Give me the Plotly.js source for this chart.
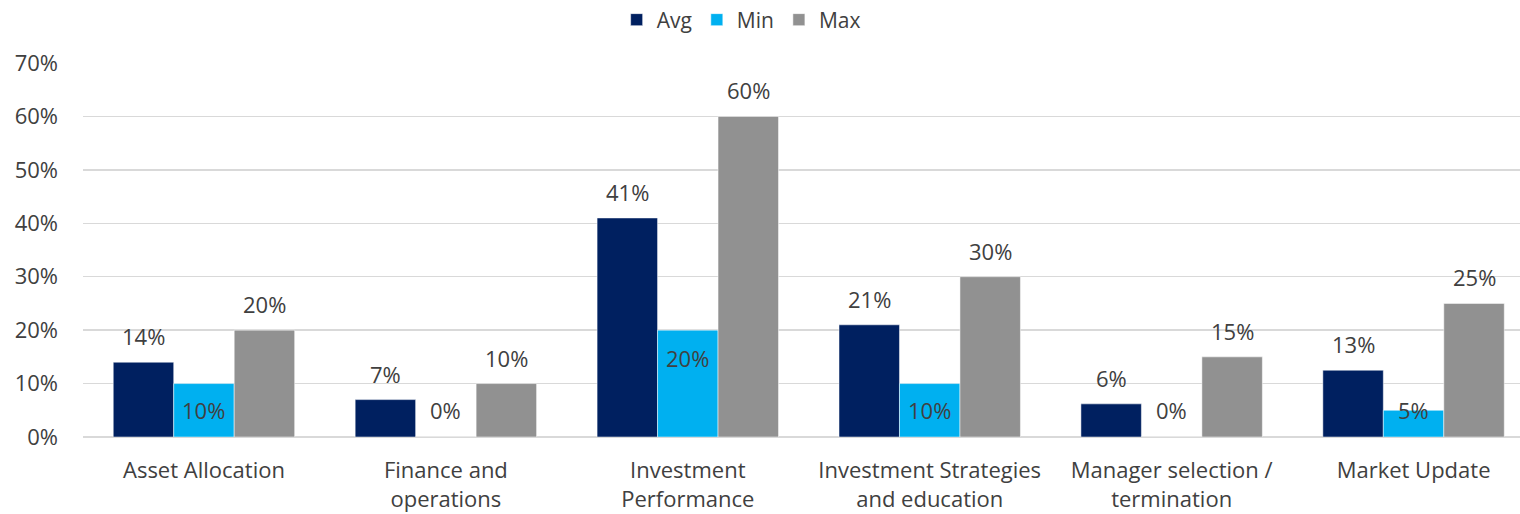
<!DOCTYPE html>
<html><head><meta charset="utf-8">
<script src="https://cdn.plot.ly/plotly-3.0.1.min.js"></script>
<style>html,body{margin:0;padding:0;background:#fff;}#chart{width:1520px;height:514px;}</style>
</head><body><div id="chart"></div>
<script>
const categories = ["Asset Allocation", "Finance and<br>operations", "Investment<br>Performance", "Investment Strategies<br>and education", "Manager selection /<br>termination", "Market Update"];
const avgValues = [14, 7, 41, 21, 6.2, 12.5];
const minValues = [10, 0, 20, 10, 0, 5];
const maxValues = [20, 10, 60, 30, 15, 25];
const avgLabels = ["14%", "7%", "41%", "21%", "6%", "13%"];
const minLabels = ["10%", "0%", "20%", "10%", "0%", "5%"];
const maxLabels = ["20%", "10%", "60%", "30%", "15%", "25%"];
const yTicks = [0, 10, 20, 30, 40, 50, 60, 70];
const yTickText = ["0%", "10%", "20%", "30%", "40%", "50%", "60%", "70%"];

const FONT = "'Open Sans', 'Liberation Sans', sans-serif";
const TXT = "#404040";
const LBL = 22;
const barShift = 60.5;

const traces = [
  {type:'bar', name:'Avg', x:categories, y:avgValues, marker:{color:'#002060', line:{color:'#ffffff', width:0.5}}, hoverinfo:'skip'},
  {type:'bar', name:'Min', x:categories, y:minValues, marker:{color:'#00B0F0', line:{color:'#ffffff', width:0.5}}, hoverinfo:'skip'},
  {type:'bar', name:'Max', x:categories, y:maxValues, marker:{color:'#919191', line:{color:'#ffffff', width:0.5}}, hoverinfo:'skip'}
];

const annotations = [];
categories.forEach((c, i) => {
  annotations.push({x:c, y:avgValues[i], xref:'x', yref:'y', text:avgLabels[i], showarrow:false, xshift:-barShift, yanchor:'middle', yshift:26, font:{family:FONT, size:LBL, color:TXT}});
  annotations.push({x:c, y:maxValues[i], xref:'x', yref:'y', text:maxLabels[i], showarrow:false, xshift:barShift, yanchor:'middle', yshift:26, font:{family:FONT, size:LBL, color:TXT}});
  annotations.push({x:c, y:Math.max(minValues[i] - 5.2, 5), xref:'x', yref:'y', text:minLabels[i], showarrow:false, xshift:0, yanchor:'middle', font:{family:FONT, size:LBL, color:TXT}});
});

const layout = {
  width:1520, height:514,
  margin:{l:83, r:0, t:63, b:77, autoexpand:false},
  paper_bgcolor:'#ffffff', plot_bgcolor:'#ffffff',
  font:{family:FONT, size:LBL, color:TXT},
  barmode:'group', bargap:0.25, bargroupgap:0,
  showlegend:true,
  legend:{orientation:'h', x:0.458, xanchor:'center', y:1.115, yanchor:'middle', font:{family:FONT, size:21, color:TXT}, itemwidth:30, tracegroupgap:0},
  xaxis:{type:'category', range:[-0.5, 5.44], showgrid:false, zeroline:false, showline:false, ticks:'', tickfont:{family:FONT, size:LBL, color:TXT}, ticklabelstandoff:18, automargin:false},
  yaxis:{range:[0, 70], tickmode:'array', tickvals:yTicks, ticktext:yTickText, showgrid:true, gridcolor:'#d9d9d9', gridwidth:1.5, zeroline:true, zerolinecolor:'#d9d9d9', zerolinewidth:1.5, showline:false, ticks:'', tickfont:{family:FONT, size:LBL, color:TXT}, ticklabelstandoff:24, automargin:false},
  annotations:annotations
};

Plotly.newPlot('chart', traces, layout, {displayModeBar:false, staticPlot:true});
</script>
</body></html>
